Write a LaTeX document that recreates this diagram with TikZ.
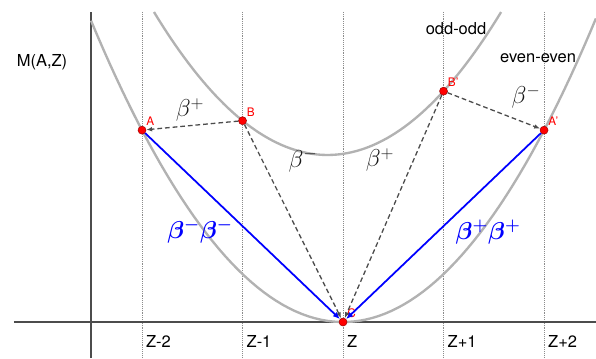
\documentclass[tikz,border=0pt]{standalone}
\usepackage{fontspec}
\setmainfont{TeX Gyre Heros}
\usepackage{amsmath}
\usepackage{bm}
\usetikzlibrary{arrows.meta, positioning}

\begin{document}
\begin{tikzpicture}[
    x=3cm, y=3cm,
    axis/.style={draw=black!70, line width=1.2pt},
    grid/.style={draw=black!45, densely dotted, line width=0.6pt},
    parab/.style={draw=black!30, line width=2pt},
    decay/.style={draw=black!70, line width=1.1pt, dash pattern=on 4pt off 2.5pt, -{Latex[length=5pt, width=4pt]}},
    twostep/.style={draw=blue, line width=1.5pt, -{Latex[length=6pt, width=5pt]}},
    dot/.style={circle, fill=red, draw=red!60!black, line width=0.4pt, minimum size=2.4mm, inner sep=0pt},
    dotlabel/.style={text=red, font=\fontsize{10}{11}\selectfont, inner sep=1pt},
    axislabel/.style={font=\fontsize{14}{16}\selectfont},
    betalabel/.style={text=black!90, font=\fontsize{22}{26}\selectfont},
    bluelabel/.style={text=blue, font=\fontsize{22}{26}\selectfont}
]
\useasboundingbox (-3.413,-0.358) rectangle (2.517,3.204);

% grid and axes
\foreach \i in {-2,...,2}
  \draw[grid] (\i,3.085) -- (\i,-0.358);
\coordinate (xl) at (-3.274,0);
\coordinate (xr) at (2.517,0);
\coordinate (yb) at (-2.507,-0.358);
\coordinate (yt) at (-2.507,3.085);
\draw[axis] (xl) -- (xr);
\draw[axis] (yb) -- (yt);

% mass parabolas
\draw[parab] plot[domain=-2.507:2.517, samples=80] (\x,{0.477*\x*\x});
\draw[parab] plot[domain=-1.881:1.573, samples=80] (\x,{1.662+0.477*(\x+0.154)*(\x+0.154)});

% texts
\node[axislabel] (mass) at (-2.995,2.587) {M(A,Z)};
\node[axislabel] (oddodd) at (1.124,2.915) {odd-odd};
\node[axislabel] (eveneven) at (1.940,2.627) {even-even};
\foreach \i/\t in {-2/Z-2, -1/Z-1, 0/Z, 1/Z+1, 2/Z+2}
  \node[axislabel, right] (z\i) at (\i,-0.19) {\t};

% nuclei
\node[dot, label={[dotlabel]above right:A}] (A) at (-2,1.909) {};
\node[dot, label={[dotlabel]above right:B}] (B) at (-1,2.003) {};
\node[dot, label={[dotlabel]above right:C}] (C) at (0,0) {};
\node[dot, label={[dotlabel]above right:B'}] (Bp) at (1,2.297) {};
\node[dot, label={[dotlabel]above right:A'}] (Ap) at (2,1.909) {};

% decays
\draw[decay] (B) -- (A);
\draw[decay] (B) -- (C);
\draw[decay] (Bp) -- (C);
\draw[decay] (Bp) -- (Ap);
\draw[twostep] (A) -- (C);
\draw[twostep] (Ap) -- (C);

\node[betalabel] (bAB) at (-1.522,2.109) {$\beta^+$};
\node[betalabel] (bBC) at (-0.398,1.612) {$\beta^-$};
\node[betalabel] (bBpC) at (0.368,1.612) {$\beta^+$};
\node[betalabel] (bBpAp) at (1.821,2.239) {$\beta^-$};
\node[bluelabel] (bbA) at (-1.423,0.905) {$\bm{\beta}^{\bm{-}}\bm{\beta}^{\bm{-}}$};
\node[bluelabel] (bbAp) at (1.443,0.896) {$\bm{\beta}^{\bm{+}}\bm{\beta}^{\bm{+}}$};

\end{tikzpicture}
\end{document}
